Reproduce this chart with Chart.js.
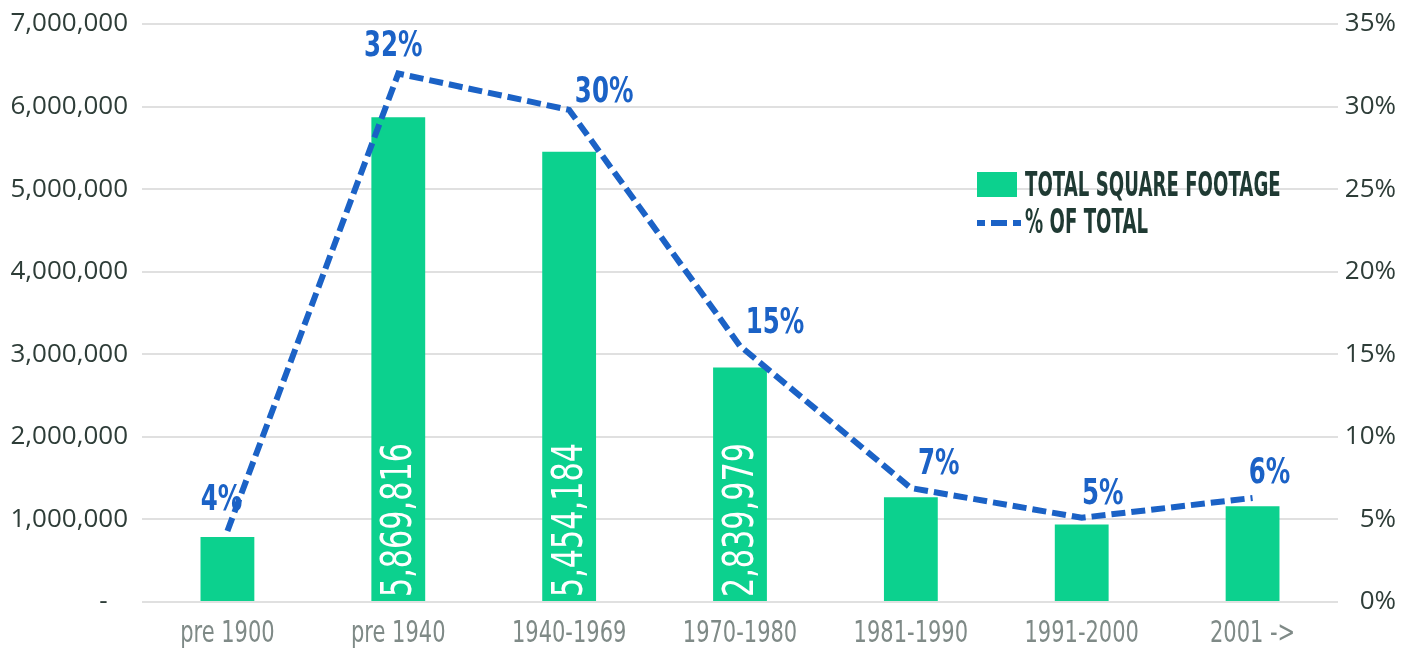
<!DOCTYPE html>
<html>
<head>
<meta charset="utf-8">
<script src="https://cdn.jsdelivr.net/npm/chart.js@4.4.1/dist/chart.umd.min.js"></script>
<style>
  html, body { margin: 0; padding: 0; background: #ffffff; }
  #wrap { width: 1413px; height: 652px; position: relative; }
</style>
</head>
<body>
<div id="wrap"><canvas id="sqftChart"></canvas></div>
<script>
// ── Data ─────────────────────────────────────────────────────────────────────
const categories = ['pre 1900', 'pre 1940', '1940-1969', '1970-1980', '1981-1990', '1991-2000', '2001 ->'];
const squareFootage = [787000, 5869816, 5454184, 2839979, 1270000, 940000, 1160000];
const pctOfTotal = [4.3, 32.0, 29.8, 15.5, 6.9, 5.1, 6.3];
const pctLabels = ['4%', '32%', '30%', '15%', '7%', '5%', '6%'];
const leftTicks = [0, 1000000, 2000000, 3000000, 4000000, 5000000, 6000000, 7000000];
const rightTicks = [0, 5, 10, 15, 20, 25, 30, 35];

const GREEN = '#0cd18e';
const BLUE = '#1b62c6';
const SANS = '"DejaVu Sans", sans-serif';

// squeeze text horizontally to mimic the condensed face of the original
function drawNarrow(ctx, text, x, y, font, squeeze, align) {
    ctx.save();
    ctx.font = font;
    ctx.textBaseline = 'middle';
    ctx.textAlign = 'left';
    const w = ctx.measureText(text).width * squeeze;
    let left = x;
    if (align === 'center') left = x - w / 2;
    else if (align === 'right') left = x - w;
    ctx.translate(left, y);
    ctx.scale(squeeze, 1);
    ctx.fillText(text, 0, 0);
    ctx.restore();
}

// ── Plugins ──────────────────────────────────────────────────────────────────
const valueLabels = {
    id: 'valueLabels',
    afterDatasetsDraw(chart) {
        const ctx = chart.ctx;
        // rotated square footage inside the tall bars
        chart.getDatasetMeta(0).data.forEach((bar, i) => {
            const v = squareFootage[i];
            if (v < 2000000) return;
            ctx.save();
            ctx.translate(bar.x, bar.base - 4);
            ctx.rotate(-Math.PI / 2);
            ctx.fillStyle = '#ffffff';
            drawNarrow(ctx, v.toLocaleString('en-US'), 0, 2, '42px ' + SANS, 0.72, 'left');
            ctx.restore();
        });
        // percentage labels over the line
        const offsets = [[-6, -30], [-5, -27], [35, -17], [35, -22], [28, -23], [21, -23], [17, -24]];
        chart.getDatasetMeta(1).data.forEach((pt, i) => {
            ctx.fillStyle = BLUE;
            drawNarrow(ctx, pctLabels[i], pt.x + offsets[i][0], pt.y + offsets[i][1], 'bold 36px ' + SANS, 0.68, 'center');
        });
        // category labels under the axis
        const xs = chart.scales.x;
        ctx.fillStyle = '#7f8a87';
        categories.forEach((c, i) => {
            drawNarrow(ctx, xs.getLabelForValue(i), xs.getPixelForTick(i), xs.top + 32, '30px ' + SANS, 0.7, 'center');
        });
    }
};

const insideLegend = {
    id: 'insideLegend',
    afterDraw(chart) {
        const ctx = chart.ctx;
        const x = 977, y = 172;
        const ds = chart.data.datasets;
        ctx.save();
        ctx.fillStyle = ds[0].backgroundColor;
        ctx.fillRect(x, y, 40, 25);
        ctx.strokeStyle = ds[1].borderColor;
        ctx.lineWidth = 6;
        ctx.setLineDash([8, 6, 16, 6]);
        ctx.beginPath();
        ctx.moveTo(x, y + 51);
        ctx.lineTo(x + 44, y + 51);
        ctx.stroke();
        ctx.restore();
        ctx.fillStyle = '#1f3a33';
        drawNarrow(ctx, ds[0].label, x + 48, y + 15, 'bold 33px ' + SANS, 0.55, 'left');
        drawNarrow(ctx, ds[1].label, x + 48, y + 52, 'bold 33px ' + SANS, 0.55, 'left');
    }
};

// no label overhang padding: chart area edges are set by layout padding
function noOverhang(axis, width) {
    axis.width = width;
    axis.paddingTop = 0;
    axis.paddingBottom = 0;
}

// ── Chart ────────────────────────────────────────────────────────────────────
new Chart(document.getElementById('sqftChart').getContext('2d'), {
    data: {
        labels: categories,
        datasets: [
            {
                type: 'bar',
                label: 'TOTAL SQUARE FOOTAGE',
                data: squareFootage,
                backgroundColor: GREEN,
                yAxisID: 'y',
                barPercentage: 0.63,
                categoryPercentage: 0.5,
                order: 2
            },
            {
                type: 'line',
                label: '% OF TOTAL',
                data: pctOfTotal,
                borderColor: BLUE,
                borderWidth: 6,
                borderDash: [14, 6],
                pointRadius: 0,
                tension: 0,
                fill: false,
                yAxisID: 'y1',
                order: 1
            }
        ]
    },
    options: {
        responsive: true,
        maintainAspectRatio: false,
        animation: false,
        layout: { padding: { top: 24, left: 0, right: 17, bottom: 0 } },
        plugins: { legend: { display: false }, tooltip: { enabled: false } },
        scales: {
            x: {
                grid: { display: false, drawTicks: false },
                border: { display: false },
                ticks: { display: false },
                afterFit: (axis) => { axis.height = 50; }
            },
            y: {
                position: 'left',
                min: 0,
                max: 7000000,
                afterBuildTicks: (axis) => { axis.ticks = leftTicks.map(v => ({ value: v })); },
                afterFit: (axis) => noOverhang(axis, 142),
                grid: { color: '#e0e0e0', lineWidth: 2, drawTicks: false },
                border: { display: false },
                ticks: {
                    color: '#2e3d38',
                    font: { family: '"Open Sans", sans-serif', size: 26 },
                    padding: 14,
                    callback: (v) => v === 0 ? '-   ' : Number(v).toLocaleString('en-US')
                }
            },
            y1: {
                position: 'right',
                min: 0,
                max: 35,
                afterBuildTicks: (axis) => { axis.ticks = rightTicks.map(v => ({ value: v })); },
                afterFit: (axis) => noOverhang(axis, 58),
                grid: { display: false, drawTicks: false },
                border: { display: false },
                ticks: {
                    color: '#2e3d38',
                    font: { family: '"Open Sans", sans-serif', size: 26 },
                    padding: 4,
                    crossAlign: 'far',
                    callback: (v) => v + '%'
                }
            }
        }
    },
    plugins: [valueLabels, insideLegend]
});
</script>
</body>
</html>
